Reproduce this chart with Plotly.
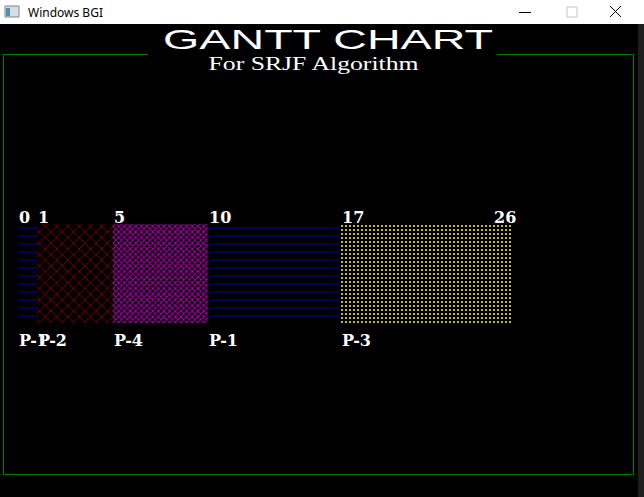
import json
import plotly.graph_objects as go

# ---------------- data ----------------
process_labels = ["P-1", "P-2", "P-4", "P-1", "P-3"]
start_times = [0, 1, 5, 10, 17]
end_times = [1, 5, 10, 17, 26]
tick_times = [0, 1, 5, 10, 17, 26]
chart_title = "GANTT CHART"
chart_subtitle = "For SRJF Algorithm"
window_title = "Windows BGI"

# ---------------- style ----------------
W, H = 644, 497
PROC_STYLE = {
    "P-1": dict(color="#0000a0", shape="-", size=8, solidity=0.13),
    "P-2": dict(color="#b00000", shape="x", size=8, solidity=0.16),
    "P-4": dict(color="#b000b0", shape="x", size=4, solidity=0.45),
    "P-3": dict(color="#ffff00", shape=".", size=4, solidity=0.2),
}
X0_PX, PX_PER_UNIT = 18, 19          # time axis scale
BAR_TOP, BAR_BOT = 224, 323          # bar pixel rows
bar_c = (BAR_TOP + BAR_BOT) / 2
bar_h = BAR_BOT - BAR_TOP


def px(x):
    return x / W


def py(y):
    return 1 - y / H


fig = go.Figure()
for lab, s, e in zip(process_labels, start_times, end_times):
    st = PROC_STYLE[lab]
    fig.add_trace(go.Bar(
        orientation="h", y=[0], x=[e - s], base=[s], width=1,
        marker=dict(color=st["color"], line=dict(width=0),
                    pattern=dict(shape=st["shape"], size=st["size"],
                                 solidity=st["solidity"], fillmode="replace",
                                 bgcolor="rgba(0,0,0,0)")),
        hoverinfo="skip", showlegend=False))

annotations = []
num_font = dict(family="DejaVu Serif", size=16, color="white", weight="bold")
last = tick_times[-1]
for t in tick_times:
    annotations.append(dict(x=t, y=0.5, xref="x", yref="y", text=str(t),
                            xanchor="left", yanchor="bottom", showarrow=False,
                            borderpad=0, yshift=-4,
                            xshift=-PX_PER_UNIT if t == last else 0,
                            font=num_font))
for lab, s in zip(process_labels, start_times):
    annotations.append(dict(x=s, y=-0.5, xref="x", yref="y", text=lab,
                            xanchor="left", yanchor="top", showarrow=False,
                            borderpad=0, yshift=-7, font=num_font))

annotations.append(dict(x=px(328), y=py(40), xref="paper", yref="paper",
                        text=chart_title, showarrow=False, xanchor="center",
                        yanchor="middle", borderpad=0,
                        font=dict(family="Liberation Sans", size=28, color="white")))
annotations.append(dict(x=px(313), y=py(64), xref="paper", yref="paper",
                        text=chart_subtitle, showarrow=False, xanchor="center",
                        yanchor="middle", borderpad=0,
                        font=dict(family="Liberation Serif", size=18, color="white")))
annotations.append(dict(x=px(27), y=py(12), xref="paper", yref="paper",
                        text=window_title, showarrow=False, xanchor="left",
                        yanchor="middle", borderpad=0,
                        font=dict(family="Noto Sans", size=12, color="black")))

shapes = []


def rect(x0, y0, x1, y1, fill=None, line=None, lw=1):
    shapes.append(dict(type="rect", xref="paper", yref="paper",
                       x0=px(x0), x1=px(x1), y0=py(y0), y1=py(y1),
                       fillcolor=fill or "rgba(0,0,0,0)",
                       line=dict(color=line or "rgba(0,0,0,0)", width=lw if line else 0),
                       layer="below"))


def seg(x0, y0, x1, y1, color, lw=1):
    shapes.append(dict(type="line", xref="paper", yref="paper",
                       x0=px(x0), x1=px(x1), y0=py(y0), y1=py(y1),
                       line=dict(color=color, width=lw), layer="above"))


# window chrome
rect(0, 0, W, 24, fill="white")
rect(638, 24, W, H, fill="#1e1e1e")
rect(5, 6, 19, 17, fill="#d8dde2", line="#7a8690")
rect(6, 8, 10, 16, fill="#4f8fb0")
seg(519, 12.5, 531, 12.5, "black")
rect(567, 7, 577, 17, line="#c8c8c8")
seg(610, 6, 621, 17, "black")
seg(610, 17, 621, 6, "black")

# green frame with gap for title
G = "#008000"
seg(3.5, 54.5, 148, 54.5, G)
seg(497, 54.5, 633.5, 54.5, G)
seg(3.5, 54.5, 3.5, 474.5, G)
seg(633.5, 54.5, 633.5, 474.5, G)
seg(3.5, 474.5, 633.5, 474.5, G)

fig.update_layout(
    width=W, height=H, margin=dict(l=0, r=0, t=0, b=0),
    paper_bgcolor="black", plot_bgcolor="black", barmode="overlay",
    xaxis=dict(range=[-X0_PX / PX_PER_UNIT, (W - X0_PX) / PX_PER_UNIT],
               visible=False, showgrid=False, zeroline=False, fixedrange=True),
    yaxis=dict(range=[-(H - bar_c) / bar_h, bar_c / bar_h],
               visible=False, showgrid=False, zeroline=False, fixedrange=True),
    annotations=annotations, shapes=shapes, showlegend=False,
)

STRETCH = {chart_title: 330, chart_subtitle: 210}
post = """
var gd=document.getElementById('{plot_id}');
var T=%s;
function fix(){gd.querySelectorAll('text.annotation-text').forEach(function(t){var w=T[t.textContent];if(w){t.setAttribute('textLength',w);t.setAttribute('lengthAdjust','spacingAndGlyphs');}});}
fix(); if(gd.on){gd.on('plotly_afterplot',fix);}
""" % json.dumps(STRETCH)

fig.write_html("out.html", post_script=post, config={"displayModeBar": False})
